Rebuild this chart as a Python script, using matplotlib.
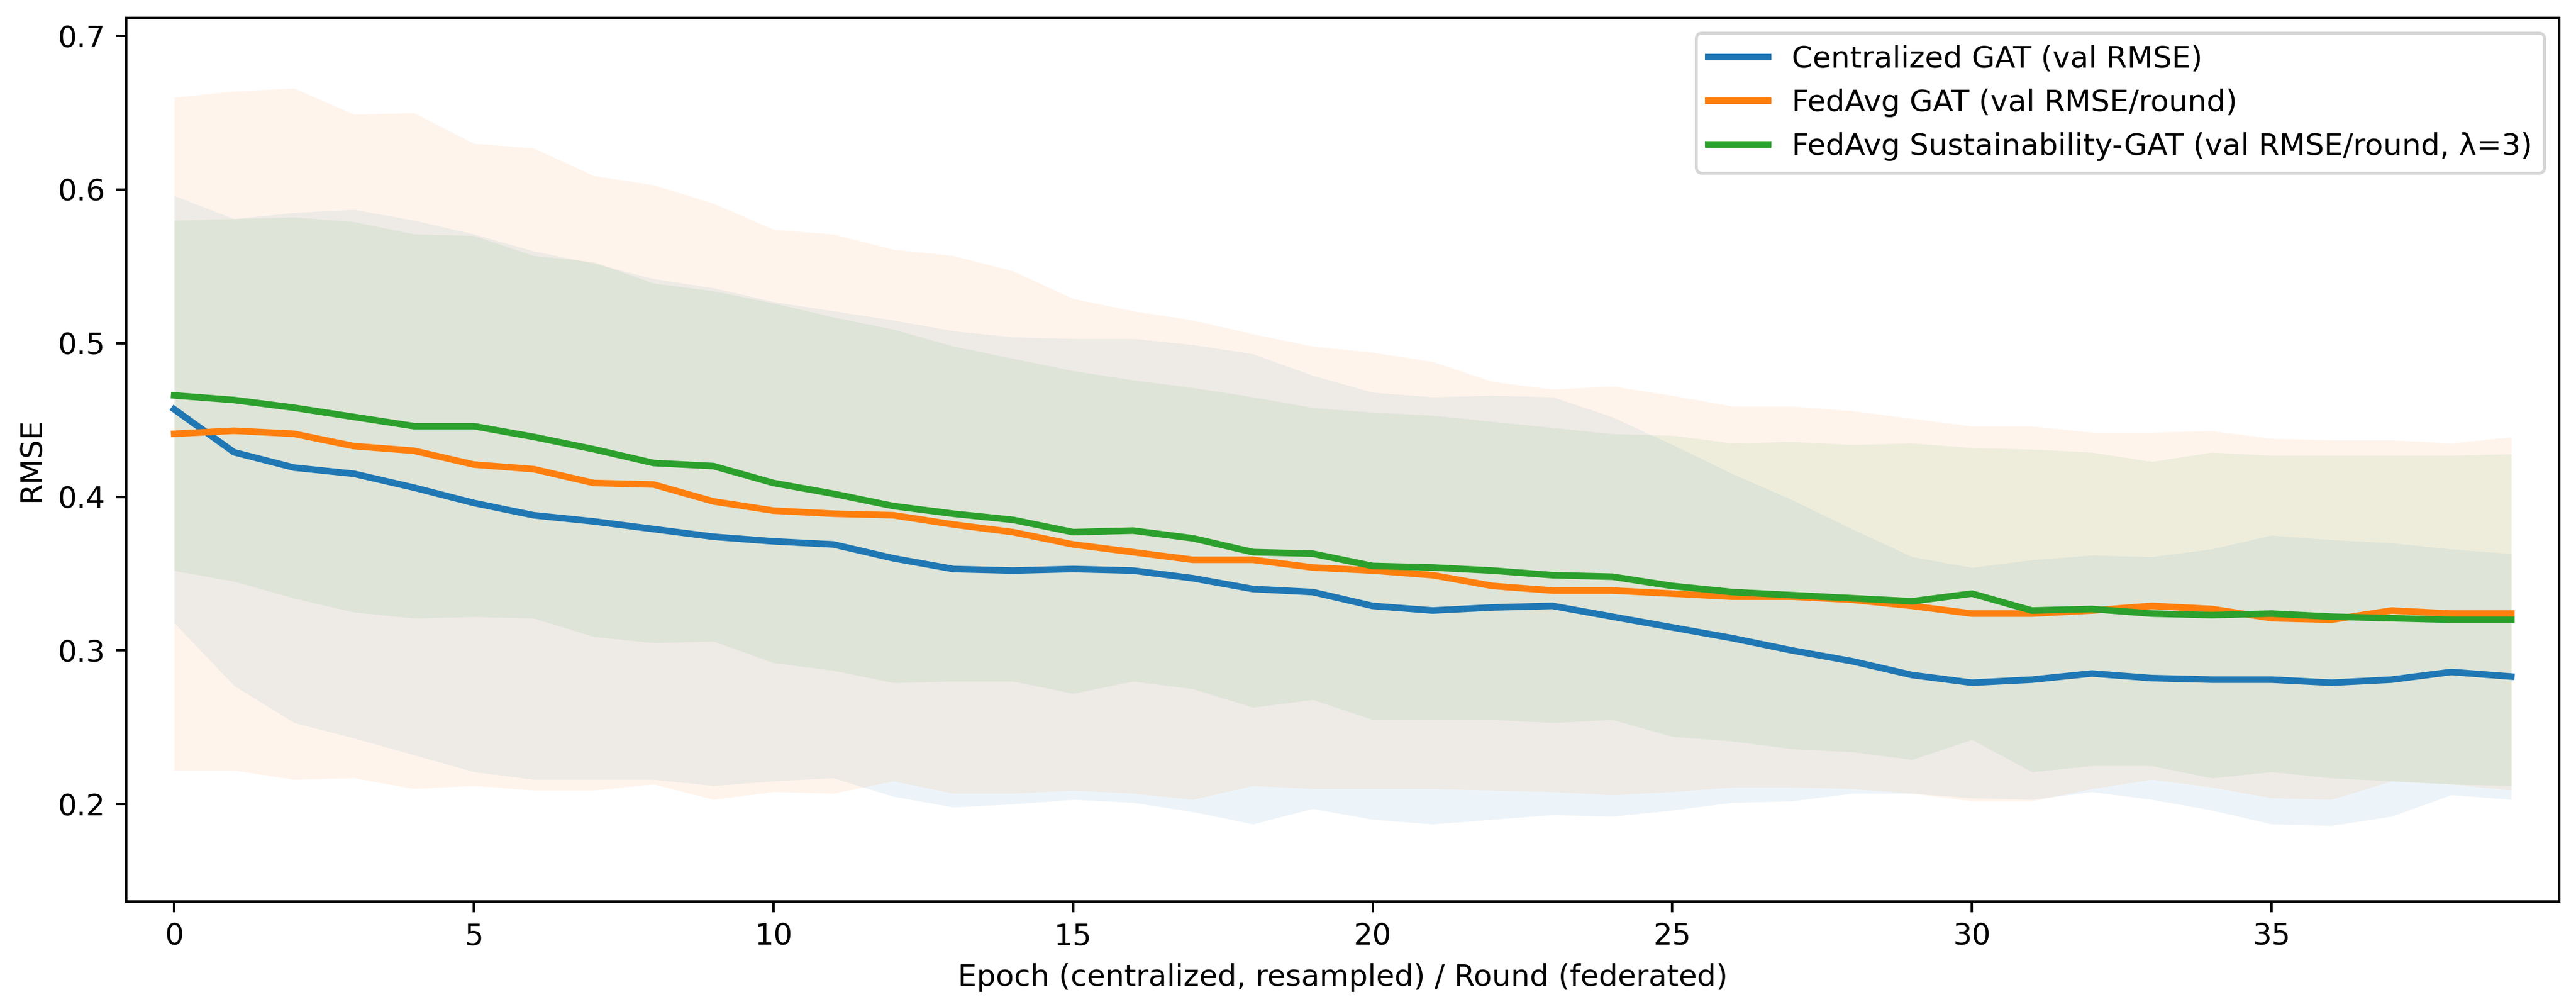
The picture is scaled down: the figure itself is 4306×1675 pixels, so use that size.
import numpy as np
import matplotlib
matplotlib.use("Agg")
import matplotlib.pyplot as plt

# x axis: epoch / round index
rounds = np.arange(40)

# Centralized GAT (val RMSE), mean and std band
central_mean = [0.457, 0.429, 0.419, 0.415, 0.406, 0.396, 0.388, 0.384, 0.379, 0.374,
                0.371, 0.369, 0.360, 0.353, 0.352, 0.353, 0.352, 0.347, 0.340, 0.338,
                0.329, 0.326, 0.328, 0.329, 0.322, 0.315, 0.308, 0.300, 0.293, 0.284,
                0.279, 0.281, 0.285, 0.282, 0.281, 0.281, 0.279, 0.281, 0.286, 0.283]
central_std = [0.139, 0.152, 0.166, 0.172, 0.174, 0.175, 0.172, 0.168, 0.163, 0.162,
               0.156, 0.152, 0.155, 0.155, 0.152, 0.150, 0.151, 0.152, 0.153, 0.141,
               0.139, 0.139, 0.138, 0.136, 0.130, 0.119, 0.107, 0.098, 0.086, 0.077,
               0.075, 0.078, 0.077, 0.079, 0.085, 0.094, 0.093, 0.089, 0.080, 0.080]

# FedAvg GAT (val RMSE/round)
fedavg_mean = [0.441, 0.443, 0.441, 0.433, 0.430, 0.421, 0.418, 0.409, 0.408, 0.397,
               0.391, 0.389, 0.388, 0.382, 0.377, 0.369, 0.364, 0.359, 0.359, 0.354,
               0.352, 0.349, 0.342, 0.339, 0.339, 0.337, 0.335, 0.335, 0.333, 0.329,
               0.324, 0.324, 0.326, 0.329, 0.327, 0.321, 0.320, 0.326, 0.324, 0.324]
fedavg_std = [0.219, 0.221, 0.225, 0.216, 0.220, 0.209, 0.209, 0.200, 0.195, 0.194,
              0.183, 0.182, 0.173, 0.175, 0.170, 0.160, 0.157, 0.156, 0.147, 0.144,
              0.142, 0.139, 0.133, 0.131, 0.133, 0.129, 0.124, 0.124, 0.123, 0.122,
              0.122, 0.122, 0.116, 0.113, 0.116, 0.117, 0.117, 0.111, 0.111, 0.115]

# FedAvg Sustainability-GAT (val RMSE/round, lambda=3)
sust_mean = [0.466, 0.463, 0.458, 0.452, 0.446, 0.446, 0.439, 0.431, 0.422, 0.420,
             0.409, 0.402, 0.394, 0.389, 0.385, 0.377, 0.378, 0.373, 0.364, 0.363,
             0.355, 0.354, 0.352, 0.349, 0.348, 0.342, 0.338, 0.336, 0.334, 0.332,
             0.337, 0.326, 0.327, 0.324, 0.323, 0.324, 0.322, 0.321, 0.320, 0.320]
sust_std = [0.114, 0.118, 0.124, 0.127, 0.125, 0.124, 0.118, 0.122, 0.117, 0.114,
            0.117, 0.115, 0.115, 0.109, 0.105, 0.105, 0.098, 0.098, 0.101, 0.095,
            0.100, 0.099, 0.097, 0.096, 0.093, 0.098, 0.097, 0.100, 0.100, 0.103,
            0.095, 0.105, 0.102, 0.099, 0.106, 0.103, 0.105, 0.106, 0.107, 0.108]

series = [
    ("Centralized GAT (val RMSE)", central_mean, central_std, "#1f77b4"),
    ("FedAvg GAT (val RMSE/round)", fedavg_mean, fedavg_std, "#ff7f0e"),
    ("FedAvg Sustainability-GAT (val RMSE/round, \u03bb=3)", sust_mean, sust_std, "#2ca02c"),
]

fig = plt.figure(figsize=(4306 / 360, 1675 / 360), dpi=360)
ax = fig.add_axes([0.0490, 0.1003, 0.9445, 0.8818])

for label, mean, std, color in series:
    mean = np.array(mean)
    std = np.array(std)
    ax.plot(rounds, mean, color=color, lw=2.2, label=label)
    ax.fill_between(rounds, mean - std, mean + std, color=color, alpha=0.08, linewidth=0)

ax.set_xlim(-0.8, 39.8)
ax.set_ylim(0.1366, 0.7117)
ax.set_xlabel("Epoch (centralized, resampled) / Round (federated)")
ax.set_ylabel("RMSE")
ax.legend(loc="upper right")

fig.savefig("out.png", dpi=360)
